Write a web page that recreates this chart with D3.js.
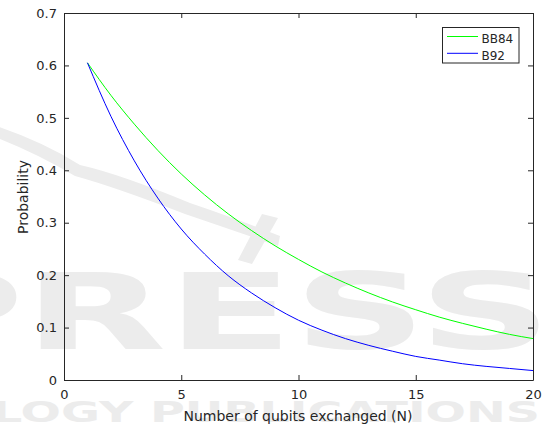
<!DOCTYPE html>
<html>
<head>
<meta charset="utf-8">
<script src="https://cdn.jsdelivr.net/npm/d3@7"></script>
<style>
  html, body { margin: 0; padding: 0; background: #fff; }
  svg { display: block; font-family: "DejaVu Sans", sans-serif; }
</style>
</head>
<body>
<svg id="chart" width="548" height="428"></svg>
<script>
// Number of qubits exchanged
const qubits = [1, 2, 3, 4, 5, 6, 7, 8, 9, 10, 11, 12, 13, 14, 15, 16, 17, 18, 19, 20];
// Probability for each protocol
const bb84 = [0.605, 0.543, 0.488, 0.438, 0.393, 0.353, 0.317, 0.285, 0.256, 0.230,
              0.206, 0.185, 0.166, 0.149, 0.134, 0.120, 0.108, 0.097, 0.087, 0.079];
const b92  = [0.605, 0.503, 0.418, 0.347, 0.288, 0.240, 0.199, 0.166, 0.138, 0.114,
              0.095, 0.079, 0.066, 0.055, 0.045, 0.038, 0.031, 0.026, 0.022, 0.018];
const seriesNames = ["BB84", "B92"];
const seriesColors = ["#00ff00", "#0000ff"];
const xTicks = [0, 5, 10, 15, 20];
const yTicks = [0, 0.1, 0.2, 0.3, 0.4, 0.5, 0.6, 0.7];

const svg = d3.select("#chart");
const ink = "#262626";

// Publisher watermark in the background
const wm = svg.append("g").attr("fill", "#ececec").attr("stroke", "none");
wm.append("path")
  .attr("d", "M-10,124 Q40,140 80,165 Q120,174 190,203 Q240,220 280,236 L278,246 Q235,231 185,214 Q115,187 75,176 Q35,152 -10,135 Z");
wm.append("path")
  .attr("d", "M262,214 L278,218 L252,264 L238,260 Z");
wm.append("text")
  .attr("x", -112).attr("y", 349)
  .attr("font-size", 106).attr("font-weight", "bold")
  .attr("textLength", 664).attr("lengthAdjust", "spacingAndGlyphs")
  .text("PRESS");
wm.append("text")
  .attr("x", -8).attr("y", 422)
  .attr("font-size", 29).attr("font-weight", "bold")
  .attr("textLength", 548).attr("lengthAdjust", "spacingAndGlyphs")
  .text("LOGY PUBLICATIONS");

const x = d3.scaleLinear().domain([0, 20]).range([64, 533]);
const y = d3.scaleLinear().domain([0, 0.7]).range([380, 13]);

const fmt = d => (d === 0 ? "0" : d3.format(".1f")(d));

function styleAxis(g) {
  g.selectAll("path.domain").attr("stroke", ink);
  g.selectAll(".tick line").attr("stroke", ink);
  g.selectAll(".tick text").attr("fill", ink)
    .attr("font-family", "DejaVu Sans").attr("font-size", 13);
}

svg.append("g").attr("transform", "translate(0,380)")
  .call(d3.axisBottom(x).tickValues(xTicks).tickFormat(d3.format("d"))
    .tickSizeInner(-5).tickSizeOuter(0).tickPadding(10))
  .call(styleAxis);
svg.append("g").attr("transform", "translate(0,13)")
  .call(d3.axisTop(x).tickValues(xTicks).tickFormat("")
    .tickSizeInner(-5).tickSizeOuter(0))
  .call(styleAxis);
svg.append("g").attr("transform", "translate(64,0)")
  .call(d3.axisLeft(y).tickValues(yTicks).tickFormat(fmt)
    .tickSizeInner(-5).tickSizeOuter(0).tickPadding(7))
  .call(styleAxis);
svg.append("g").attr("transform", "translate(533,0)")
  .call(d3.axisRight(y).tickValues(yTicks).tickFormat("")
    .tickSizeInner(-5).tickSizeOuter(0))
  .call(styleAxis);
svg.selectAll("g").attr("font-family", null).attr("font-size", null);

// Curves
const line = d3.line()
  .x((d, i) => x(qubits[i]))
  .y(d => y(d))
  .curve(d3.curveMonotoneX);

[bb84, b92].forEach((vals, k) => {
  svg.append("path")
    .datum(vals)
    .attr("fill", "none")
    .attr("stroke", seriesColors[k])
    .attr("stroke-width", 1)
    .attr("d", line);
});

// Axis titles
svg.append("text")
  .attr("x", 298).attr("y", 421)
  .attr("text-anchor", "middle").attr("font-size", 14).attr("fill", ink)
  .text("Number of qubits exchanged (N)");
svg.append("text")
  .attr("transform", "translate(28,197) rotate(-90)")
  .attr("text-anchor", "middle").attr("font-size", 14).attr("fill", ink)
  .text("Probability");

// Legend
const legend = svg.append("g");
legend.append("rect")
  .attr("x", 442.5).attr("y", 27.5).attr("width", 76.5).attr("height", 35.5)
  .attr("fill", "#fff").attr("stroke", ink).attr("stroke-width", 1);
seriesNames.forEach((name, k) => {
  const ly = 36.5 + k * 16.8;
  legend.append("line")
    .attr("x1", 447).attr("x2", 478).attr("y1", ly).attr("y2", ly)
    .attr("stroke", seriesColors[k]).attr("stroke-width", 1);
  legend.append("text")
    .attr("x", 481.5).attr("y", ly + 6.3)
    .attr("font-size", 12).attr("fill", ink)
    .text(name);
});
</script>
</body>
</html>
